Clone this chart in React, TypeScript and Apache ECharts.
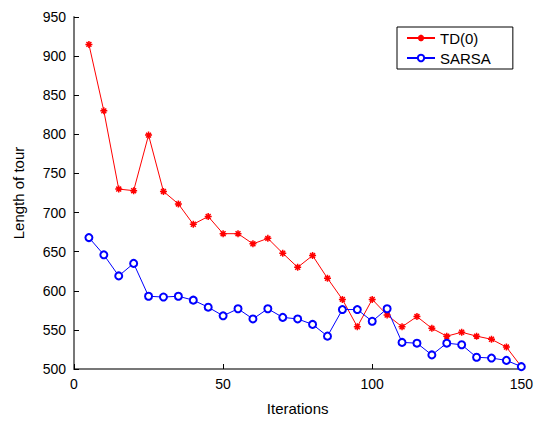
import React, { useEffect, useRef } from "react";
import * as echarts from "echarts";

const iterations = [5,10,15,20,25,30,35,40,45,50,55,60,65,70,75,80,85,90,95,100,105,110,115,120,125,130,135,140,145,150];
const td0 = [915,830,730,728,799,727,711,685,695,673,673,660,667,648,630,645,616,589,554,589,569,554,567,552,542,547,542,538,528,503];
const sarsa = [668,646,619,635,593,592,593,588,579,568,577,564,577,566,564,557,542,576,576,561,577,534,533,518,533,531,515,514,511,503];

const asterisk = "path://M0 5 L10 5 M5 0 L5 10 M1.5 1.5 L8.5 8.5 M8.5 1.5 L1.5 8.5";
const FONT = "Liberation Sans, Arial, Helvetica, sans-serif";

export default function App() {
  const ref = useRef<HTMLDivElement>(null);
  useEffect(() => {
    if (!ref.current) return;
    const chart = echarts.init(ref.current, undefined, { renderer: "svg" });
    chart.setOption({
      animation: false,
      backgroundColor: "#fff",
      textStyle: { fontFamily: FONT },
      grid: { left: 74, right: 14, top: 17, bottom: 52 },
      legend: {
        orient: "vertical",
        left: 397,
        top: 27,
        padding: [3, 22, 3, 9],
        itemWidth: 28,
        itemHeight: 8,
        itemGap: 4,
        borderColor: "#000",
        borderWidth: 1,
        borderRadius: 0,
        textStyle: { fontFamily: FONT, fontSize: 15, color: "#000", lineHeight: 16 },
        data: ["TD(0)", "SARSA"],
      },
      xAxis: {
        type: "value",
        min: 0,
        max: 150,
        interval: 50,
        name: "Iterations",
        nameLocation: "middle",
        nameGap: 32,
        nameTextStyle: { fontFamily: FONT, fontSize: 15, color: "#000" },
        axisLine: { lineStyle: { color: "#777", width: 2 } },
        axisTick: { inside: true, length: 5, lineStyle: { color: "#000" } },
        axisLabel: { fontFamily: FONT, fontSize: 14, color: "#000", margin: 8 },
        splitLine: { show: false },
      },
      yAxis: {
        type: "value",
        min: 500,
        max: 950,
        interval: 50,
        name: "Length of tour",
        nameLocation: "middle",
        nameGap: 48,
        nameTextStyle: { fontFamily: FONT, fontSize: 15, color: "#000" },
        axisLine: { show: true, lineStyle: { color: "#777", width: 2 } },
        axisTick: { show: true, inside: true, length: 5, lineStyle: { color: "#000" } },
        axisLabel: { fontFamily: FONT, fontSize: 14, color: "#000", margin: 8 },
        splitLine: { show: false },
      },
      series: [
        {
          name: "TD(0)",
          type: "line",
          data: iterations.map((x, i) => [x, td0[i]]),
          symbol: asterisk,
          symbolSize: 7,
          showAllSymbol: true,
          lineStyle: { color: "#ff0000", width: 1 },
          itemStyle: { color: "#ff0000", borderColor: "#ff0000", borderWidth: 1.5 },
        },
        {
          name: "SARSA",
          type: "line",
          data: iterations.map((x, i) => [x, sarsa[i]]),
          symbol: "emptyCircle",
          symbolSize: 7,
          showAllSymbol: true,
          lineStyle: { color: "#0000ff", width: 1 },
          itemStyle: { color: "#0000ff", borderColor: "#0000ff", borderWidth: 1 },
        },
      ],
    });
    return () => chart.dispose();
  }, []);
  return <div ref={ref} style={{ width: 536, height: 421, position: "absolute", left: 0, top: 0 }} />;
}
